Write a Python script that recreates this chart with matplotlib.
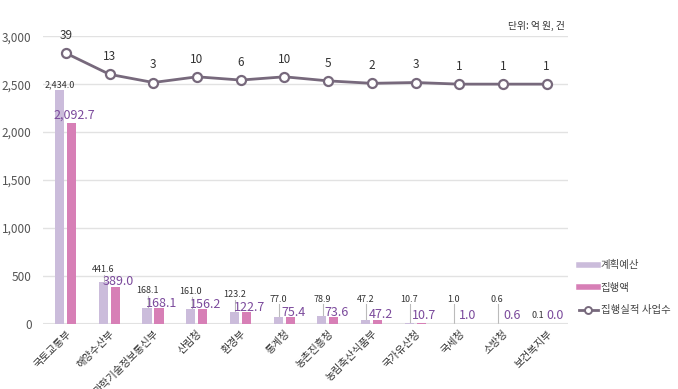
import numpy as np
import matplotlib.pyplot as plt
from matplotlib.lines import Line2D

plt.rcParams['font.family'] = ['Noto Sans CJK KR', 'DejaVu Sans']

# 부처별 계획예산 / 집행액 (억 원), 집행실적 사업수 (건)
agencies = ['국토교통부', '해양수산부', '과학기술정보통신부', '산림청', '환경부', '통계청',
            '농촌진흥청', '농림축산식품부', '국가유산청', '국세청', '소방청', '보건복지부']
plan = [2434.0, 441.6, 168.1, 161.0, 123.2, 77.0, 78.9, 47.2, 10.7, 1.0, 0.6, 0.1]
spent = [2092.7, 389.0, 168.1, 156.2, 122.7, 75.4, 73.6, 47.2, 10.7, 1.0, 0.6, 0.0]
projects = [39, 13, 3, 10, 6, 10, 5, 2, 3, 1, 1, 1]

c_plan = '#cbbcdb'
c_spent = '#d77fb6'
c_line = '#77697c'
c_txt_spent = '#7b4a9c'

fig = plt.figure(figsize=(6.78, 3.89), dpi=100)
ax = fig.add_axes([0.063, 0.167, 0.775, 0.740])

x = np.arange(len(agencies))
w = 0.21
ax.bar(x - 0.145, plan, w, color=c_plan, zorder=2)
ax.bar(x + 0.13, spent, w, color=c_spent, zorder=2)

ax.set_ylim(0, 3000)
ax.set_xlim(-0.53, 11.49)
ticks = [0, 500, 1000, 1500, 2000, 2500, 3000]
ax.set_yticks(ticks)
ax.set_yticklabels([f'{v:,}' for v in ticks])
ax.yaxis.grid(True, color='#e2e2e2', lw=1, zorder=0)
ax.axhline(0, color='#e2e2e2', lw=1.5, zorder=1)
for s in ax.spines.values():
    s.set_visible(False)
ax.tick_params(axis='y', length=0, labelsize=8.5, labelcolor='#555555', pad=8)
ax.tick_params(axis='x', length=0, pad=3)
ax.set_xticks(x)
ax.set_xticklabels(agencies, rotation=45, ha='right', rotation_mode='anchor',
                   fontsize=7.5, color='#333333')

# 값 라벨
for i in range(len(agencies)):
    p, s = plan[i], spent[i]
    sy = s + 85 if s > 1000 else max(s + 50, 90)
    ax.text(i + 0.2, sy, f'{s:,.1f}', ha='center', va='center', fontsize=9,
            color=c_txt_spent)
    if p < 0.5:
        ax.text(i - 0.2, sy, f'{p:,.1f}', ha='center', va='center', fontsize=6.5,
                color='#333333')
        continue
    py = max(p + 60, sy + 130, 260)
    if py - 60 > p + 20:
        ax.plot([i - 0.125, i - 0.125], [p, py - 55], color='#bbbbbb', lw=0.8, zorder=1)
    ax.text(i - 0.14, py, f'{p:,.1f}', ha='center', va='center', fontsize=6.5,
            color='#333333')

# 집행실적 사업수 (보조축)
ax2 = ax.twinx()
ax2.set_ylim(-293.1, 59.8)
ax2.axis('off')
ax2.plot(x, projects, color=c_line, lw=2, marker='o', markersize=6.5,
         markerfacecolor='white', markeredgecolor=c_line, markeredgewidth=1.6, zorder=3)
for i, n in enumerate(projects):
    ax2.annotate(str(n), (x[i], n), xytext=(0, 8), textcoords='offset points',
                 ha='center', va='bottom', fontsize=8.5, color='#333333')

fig.text(0.833, 0.932, '단위: 억 원, 건', ha='right', va='center', fontsize=7,
         color='#333333')

handles = [Line2D([], [], color=c_plan, lw=4),
           Line2D([], [], color=c_spent, lw=4),
           Line2D([], [], color=c_line, lw=2, marker='o', markersize=5,
                  markerfacecolor='white', markeredgewidth=1.4)]
fig.legend(handles, ['계획예산', '집행액', '집행실적 사업수'], loc='center left',
           bbox_to_anchor=(0.84, 0.26), frameon=False, fontsize=7.5,
           handlelength=1.8, handletextpad=0.3, labelspacing=1.2, labelcolor='#444444')

fig.savefig('out.png', dpi=100, facecolor='white')
